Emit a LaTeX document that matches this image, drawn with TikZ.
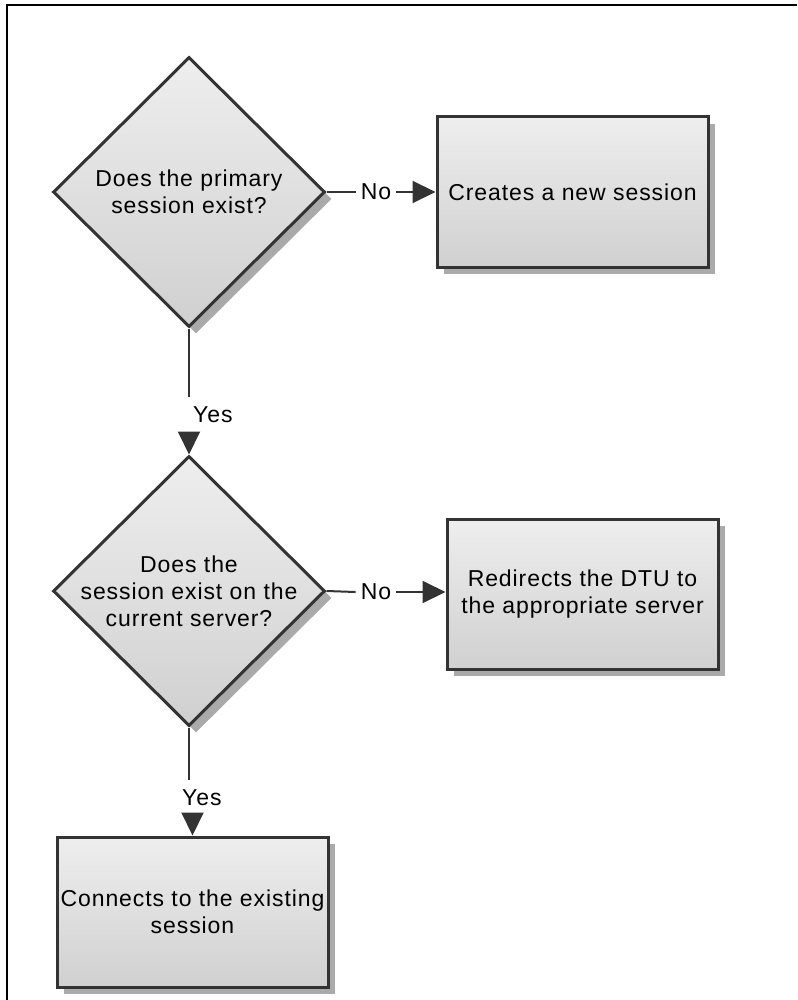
\documentclass[tikz,border=0pt]{standalone}
\usepackage{fontspec}
\setmainfont{Liberation Sans}[LetterSpace=4]
\usetikzlibrary{shapes.geometric,shadows,arrows.meta}
\definecolor{topc}{HTML}{EEEEEE}
\definecolor{botc}{HTML}{D0D0D0}
\definecolor{edgec}{HTML}{333333}
\definecolor{shadc}{HTML}{AAAAAA}
\begin{document}
\begin{tikzpicture}[x=1pt,y=-1pt,
  every node/.style={font=\fontsize{23}{27}\selectfont, text=black},
  boxshape/.style={draw=edgec, line width=3pt, top color=topc, bottom color=botc,
    drop shadow={shadow xshift=7pt, shadow yshift=-7pt, fill=shadc, opacity=1}},
  procbox/.style={boxshape, rectangle, minimum width=271pt, minimum height=150pt, inner sep=0pt, align=center},
  decision/.style={boxshape, diamond, minimum width=272pt, minimum height=270pt, inner sep=0pt},
  txt/.style={align=center, inner sep=0pt},
  lbl/.style={inner sep=5pt},
  conn/.style={draw=edgec, line width=2pt},
  arr/.style={conn, -{Triangle[length=23pt,width=22pt]}}
]
\useasboundingbox (0,0) rectangle (797,1000);
\draw[line width=2pt] (7,1000) -- (7,5) -- (797,5);

% first decision
\node[decision] (d1) at (189,192) {};
\node[txt] (t1) at (d1.center) {Does the primary\\session exist?};
\node[procbox] (b1) at (572.5,192) {Creates a new session};
\node[lbl] (n1) at (376,192) {No};
\draw[conn] (d1.east) -- (n1.west);
\draw[arr] (n1.east) -- (b1.west);

% second decision
\node[decision] (d2) at (189,591) {};
\node[txt] (t2) at (d2.center) {Does the\\session exist on the\\current server?};
\node[procbox] (b2) at (582.5,594) {Redirects the DTU to\\the appropriate server};
\node[lbl] (n2) at (376,592) {No};
\draw[conn] (d2.east) -- (n2.west);
\draw[arr] (n2.east) -- (n2.east -| b2.west);

% yes 1
\coordinate (y1a) at (189,397);
\coordinate (y1b) at (189,433);
\node[txt, anchor=west] (yes1) at (193,415) {Yes};
\draw[conn] (d1.south) -- (y1a);
\draw[arr] (y1b) -- (d2.north);

% final box
\node[procbox] (b3) at (192.5,912) {Connects to the existing\\session};

% yes 2
\coordinate (y2a) at (189,780);
\coordinate (y2b) at (192.5,814);
\node[txt, anchor=west] (yes2) at (182,798) {Yes};
\draw[conn] (d2.south) -- (y2a);
\draw[arr] (y2b) -- (b3.north);
\end{tikzpicture}
\end{document}
